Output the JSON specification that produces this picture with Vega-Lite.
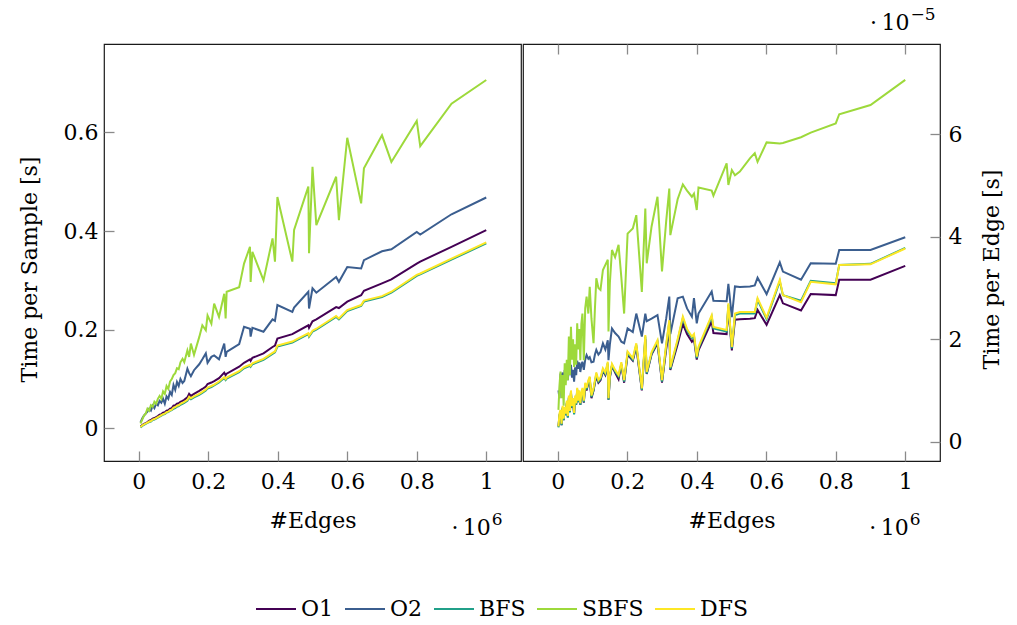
{
  "$schema": "https://vega.github.io/schema/vega-lite/v6.json",
  "padding": {"left": 17, "top": 5, "right": 5, "bottom": 5},
  "datasets": {
    "sample": [
      {"e":0.005,"O1":0.004,"O2":0.012,"BFS":0.002,"SBFS":0.010,"DFS":0.003},
      {"e":0.01,"O1":0.007,"O2":0.020,"BFS":0.005,"SBFS":0.018,"DFS":0.006},
      {"e":0.015,"O1":0.009,"O2":0.026,"BFS":0.007,"SBFS":0.026,"DFS":0.008},
      {"e":0.02,"O1":0.011,"O2":0.030,"BFS":0.009,"SBFS":0.030,"DFS":0.010},
      {"e":0.025,"O1":0.013,"O2":0.034,"BFS":0.011,"SBFS":0.040,"DFS":0.012},
      {"e":0.03,"O1":0.016,"O2":0.040,"BFS":0.013,"SBFS":0.036,"DFS":0.014},
      {"e":0.035,"O1":0.017,"O2":0.036,"BFS":0.014,"SBFS":0.047,"DFS":0.015},
      {"e":0.04,"O1":0.020,"O2":0.046,"BFS":0.017,"SBFS":0.044,"DFS":0.018},
      {"e":0.045,"O1":0.021,"O2":0.041,"BFS":0.018,"SBFS":0.054,"DFS":0.019},
      {"e":0.05,"O1":0.023,"O2":0.050,"BFS":0.020,"SBFS":0.050,"DFS":0.021},
      {"e":0.055,"O1":0.025,"O2":0.047,"BFS":0.022,"SBFS":0.060,"DFS":0.023},
      {"e":0.06,"O1":0.028,"O2":0.056,"BFS":0.024,"SBFS":0.066,"DFS":0.025},
      {"e":0.065,"O1":0.029,"O2":0.052,"BFS":0.026,"SBFS":0.060,"DFS":0.027},
      {"e":0.07,"O1":0.032,"O2":0.060,"BFS":0.028,"SBFS":0.075,"DFS":0.029},
      {"e":0.075,"O1":0.033,"O2":0.050,"BFS":0.029,"SBFS":0.070,"DFS":0.030},
      {"e":0.08,"O1":0.036,"O2":0.065,"BFS":0.032,"SBFS":0.086,"DFS":0.033},
      {"e":0.085,"O1":0.037,"O2":0.060,"BFS":0.033,"SBFS":0.080,"DFS":0.034},
      {"e":0.09,"O1":0.040,"O2":0.074,"BFS":0.036,"SBFS":0.095,"DFS":0.037},
      {"e":0.095,"O1":0.041,"O2":0.068,"BFS":0.037,"SBFS":0.100,"DFS":0.038},
      {"e":0.1,"O1":0.046,"O2":0.088,"BFS":0.040,"SBFS":0.108,"DFS":0.042},
      {"e":0.105,"O1":0.047,"O2":0.078,"BFS":0.041,"SBFS":0.112,"DFS":0.043},
      {"e":0.11,"O1":0.050,"O2":0.094,"BFS":0.044,"SBFS":0.122,"DFS":0.046},
      {"e":0.115,"O1":0.051,"O2":0.086,"BFS":0.045,"SBFS":0.120,"DFS":0.047},
      {"e":0.12,"O1":0.054,"O2":0.100,"BFS":0.048,"SBFS":0.134,"DFS":0.050},
      {"e":0.126,"O1":0.056,"O2":0.092,"BFS":0.050,"SBFS":0.141,"DFS":0.052},
      {"e":0.131,"O1":0.058,"O2":0.096,"BFS":0.052,"SBFS":0.134,"DFS":0.054},
      {"e":0.14,"O1":0.063,"O2":0.121,"BFS":0.056,"SBFS":0.158,"DFS":0.058},
      {"e":0.145,"O1":0.070,"O2":0.112,"BFS":0.062,"SBFS":0.145,"DFS":0.064},
      {"e":0.15,"O1":0.066,"O2":0.106,"BFS":0.059,"SBFS":0.172,"DFS":0.061},
      {"e":0.159,"O1":0.070,"O2":0.118,"BFS":0.063,"SBFS":0.149,"DFS":0.065},
      {"e":0.174,"O1":0.076,"O2":0.130,"BFS":0.068,"SBFS":0.185,"DFS":0.070},
      {"e":0.183,"O1":0.080,"O2":0.140,"BFS":0.072,"SBFS":0.209,"DFS":0.074},
      {"e":0.193,"O1":0.085,"O2":0.152,"BFS":0.077,"SBFS":0.199,"DFS":0.079},
      {"e":0.198,"O1":0.090,"O2":0.133,"BFS":0.081,"SBFS":0.229,"DFS":0.083},
      {"e":0.209,"O1":0.093,"O2":0.145,"BFS":0.084,"SBFS":0.212,"DFS":0.086},
      {"e":0.217,"O1":0.096,"O2":0.148,"BFS":0.087,"SBFS":0.253,"DFS":0.089},
      {"e":0.231,"O1":0.102,"O2":0.140,"BFS":0.093,"SBFS":0.226,"DFS":0.095},
      {"e":0.246,"O1":0.113,"O2":0.172,"BFS":0.102,"SBFS":0.273,"DFS":0.104},
      {"e":0.25,"O1":0.108,"O2":0.145,"BFS":0.098,"SBFS":0.223,"DFS":0.100},
      {"e":0.253,"O1":0.111,"O2":0.155,"BFS":0.101,"SBFS":0.277,"DFS":0.103},
      {"e":0.289,"O1":0.125,"O2":0.171,"BFS":0.114,"SBFS":0.286,"DFS":0.116},
      {"e":0.303,"O1":0.133,"O2":0.206,"BFS":0.122,"SBFS":0.334,"DFS":0.124},
      {"e":0.32,"O1":0.140,"O2":0.202,"BFS":0.127,"SBFS":0.368,"DFS":0.129},
      {"e":0.322,"O1":0.137,"O2":0.186,"BFS":0.125,"SBFS":0.297,"DFS":0.127},
      {"e":0.327,"O1":0.143,"O2":0.204,"BFS":0.130,"SBFS":0.358,"DFS":0.132},
      {"e":0.359,"O1":0.152,"O2":0.196,"BFS":0.139,"SBFS":0.300,"DFS":0.141},
      {"e":0.385,"O1":0.165,"O2":0.221,"BFS":0.151,"SBFS":0.385,"DFS":0.153},
      {"e":0.392,"O1":0.168,"O2":0.218,"BFS":0.154,"SBFS":0.338,"DFS":0.156},
      {"e":0.399,"O1":0.182,"O2":0.250,"BFS":0.166,"SBFS":0.469,"DFS":0.168},
      {"e":0.442,"O1":0.191,"O2":0.236,"BFS":0.174,"SBFS":0.338,"DFS":0.176},
      {"e":0.447,"O1":0.193,"O2":0.245,"BFS":0.176,"SBFS":0.402,"DFS":0.178},
      {"e":0.488,"O1":0.209,"O2":0.277,"BFS":0.191,"SBFS":0.490,"DFS":0.193},
      {"e":0.49,"O1":0.204,"O2":0.243,"BFS":0.186,"SBFS":0.355,"DFS":0.188},
      {"e":0.5,"O1":0.217,"O2":0.284,"BFS":0.196,"SBFS":0.530,"DFS":0.198},
      {"e":0.511,"O1":0.221,"O2":0.275,"BFS":0.200,"SBFS":0.412,"DFS":0.202},
      {"e":0.568,"O1":0.246,"O2":0.307,"BFS":0.226,"SBFS":0.510,"DFS":0.228},
      {"e":0.576,"O1":0.244,"O2":0.297,"BFS":0.221,"SBFS":0.422,"DFS":0.223},
      {"e":0.6,"O1":0.257,"O2":0.327,"BFS":0.238,"SBFS":0.589,"DFS":0.240},
      {"e":0.64,"O1":0.270,"O2":0.324,"BFS":0.248,"SBFS":0.456,"DFS":0.250},
      {"e":0.648,"O1":0.279,"O2":0.341,"BFS":0.257,"SBFS":0.527,"DFS":0.259},
      {"e":0.7,"O1":0.294,"O2":0.359,"BFS":0.266,"SBFS":0.594,"DFS":0.268},
      {"e":0.727,"O1":0.302,"O2":0.363,"BFS":0.275,"SBFS":0.540,"DFS":0.277},
      {"e":0.8,"O1":0.334,"O2":0.398,"BFS":0.309,"SBFS":0.623,"DFS":0.311},
      {"e":0.81,"O1":0.338,"O2":0.393,"BFS":0.312,"SBFS":0.572,"DFS":0.314},
      {"e":0.9,"O1":0.368,"O2":0.434,"BFS":0.342,"SBFS":0.658,"DFS":0.344},
      {"e":1.0,"O1":0.402,"O2":0.468,"BFS":0.375,"SBFS":0.706,"DFS":0.377}
    ],
    "edge": [
      {"e":0.002,"O1":0.30,"O2":1.00,"BFS":0.28,"SBFS":0.62,"DFS":0.30},
      {"e":0.005,"O1":0.50,"O2":0.85,"BFS":0.52,"SBFS":1.10,"DFS":0.55},
      {"e":0.008,"O1":0.60,"O2":1.33,"BFS":0.59,"SBFS":1.37,"DFS":0.62},
      {"e":0.011,"O1":0.32,"O2":1.20,"BFS":0.32,"SBFS":0.85,"DFS":0.35},
      {"e":0.014,"O1":0.65,"O2":1.35,"BFS":0.67,"SBFS":1.30,"DFS":0.70},
      {"e":0.017,"O1":0.42,"O2":1.05,"BFS":0.42,"SBFS":0.70,"DFS":0.45},
      {"e":0.02,"O1":0.65,"O2":1.40,"BFS":0.65,"SBFS":1.53,"DFS":0.68},
      {"e":0.023,"O1":0.52,"O2":1.25,"BFS":0.52,"SBFS":1.10,"DFS":0.55},
      {"e":0.026,"O1":0.75,"O2":1.38,"BFS":0.77,"SBFS":1.60,"DFS":0.80},
      {"e":0.029,"O1":0.48,"O2":1.20,"BFS":0.47,"SBFS":1.20,"DFS":0.50},
      {"e":0.032,"O1":0.85,"O2":1.46,"BFS":0.87,"SBFS":2.05,"DFS":0.90},
      {"e":0.035,"O1":0.58,"O2":1.30,"BFS":0.57,"SBFS":1.30,"DFS":0.60},
      {"e":0.038,"O1":0.95,"O2":1.50,"BFS":0.97,"SBFS":2.24,"DFS":1.00},
      {"e":0.041,"O1":0.66,"O2":1.25,"BFS":0.67,"SBFS":1.60,"DFS":0.70},
      {"e":0.044,"O1":0.80,"O2":1.40,"BFS":0.82,"SBFS":2.00,"DFS":0.85},
      {"e":0.047,"O1":0.54,"O2":1.17,"BFS":0.53,"SBFS":1.46,"DFS":0.56},
      {"e":0.05,"O1":0.86,"O2":1.45,"BFS":0.87,"SBFS":1.90,"DFS":0.90},
      {"e":0.053,"O1":0.72,"O2":1.30,"BFS":0.72,"SBFS":1.50,"DFS":0.75},
      {"e":0.056,"O1":1.00,"O2":1.58,"BFS":1.02,"SBFS":2.31,"DFS":1.05},
      {"e":0.059,"O1":0.77,"O2":1.42,"BFS":0.77,"SBFS":1.80,"DFS":0.80},
      {"e":0.062,"O1":0.95,"O2":1.55,"BFS":0.97,"SBFS":2.20,"DFS":1.00},
      {"e":0.065,"O1":0.72,"O2":1.36,"BFS":0.72,"SBFS":1.59,"DFS":0.75},
      {"e":0.068,"O1":0.90,"O2":1.50,"BFS":0.92,"SBFS":2.30,"DFS":0.95},
      {"e":0.071,"O1":1.00,"O2":1.56,"BFS":1.02,"SBFS":2.50,"DFS":1.05},
      {"e":0.075,"O1":0.76,"O2":1.40,"BFS":0.77,"SBFS":1.59,"DFS":0.80},
      {"e":0.079,"O1":1.10,"O2":1.60,"BFS":1.12,"SBFS":2.60,"DFS":1.15},
      {"e":0.083,"O1":1.00,"O2":1.69,"BFS":1.02,"SBFS":2.83,"DFS":1.05},
      {"e":0.088,"O1":1.15,"O2":1.62,"BFS":1.17,"SBFS":2.50,"DFS":1.20},
      {"e":0.092,"O1":1.20,"O2":1.65,"BFS":1.24,"SBFS":3.02,"DFS":1.27},
      {"e":0.097,"O1":0.85,"O2":1.55,"BFS":0.87,"SBFS":2.40,"DFS":0.90},
      {"e":0.103,"O1":1.00,"O2":1.56,"BFS":1.01,"SBFS":1.92,"DFS":1.04},
      {"e":0.107,"O1":1.15,"O2":1.70,"BFS":1.17,"SBFS":2.60,"DFS":1.20},
      {"e":0.111,"O1":1.28,"O2":1.79,"BFS":1.32,"SBFS":3.19,"DFS":1.35},
      {"e":0.117,"O1":1.15,"O2":1.70,"BFS":1.17,"SBFS":3.00,"DFS":1.20},
      {"e":0.123,"O1":1.20,"O2":1.75,"BFS":1.22,"SBFS":2.96,"DFS":1.25},
      {"e":0.13,"O1":1.38,"O2":1.92,"BFS":1.40,"SBFS":3.35,"DFS":1.43},
      {"e":0.137,"O1":1.30,"O2":1.80,"BFS":1.32,"SBFS":3.45,"DFS":1.35},
      {"e":0.144,"O1":1.50,"O2":1.98,"BFS":1.53,"SBFS":3.55,"DFS":1.56},
      {"e":0.146,"O1":0.82,"O2":1.59,"BFS":0.82,"SBFS":2.15,"DFS":0.85},
      {"e":0.15,"O1":1.25,"O2":1.90,"BFS":1.27,"SBFS":3.10,"DFS":1.30},
      {"e":0.156,"O1":1.48,"O2":2.21,"BFS":1.49,"SBFS":3.74,"DFS":1.52},
      {"e":0.165,"O1":1.35,"O2":2.12,"BFS":1.37,"SBFS":3.60,"DFS":1.40},
      {"e":0.175,"O1":1.22,"O2":2.05,"BFS":1.27,"SBFS":3.84,"DFS":1.30},
      {"e":0.183,"O1":1.50,"O2":1.95,"BFS":1.52,"SBFS":3.20,"DFS":1.55},
      {"e":0.191,"O1":1.15,"O2":1.92,"BFS":1.17,"SBFS":2.50,"DFS":1.20},
      {"e":0.201,"O1":1.70,"O2":2.21,"BFS":1.73,"SBFS":4.06,"DFS":1.76},
      {"e":0.216,"O1":1.58,"O2":2.14,"BFS":1.60,"SBFS":4.16,"DFS":1.63},
      {"e":0.226,"O1":1.85,"O2":2.50,"BFS":1.89,"SBFS":4.42,"DFS":1.92},
      {"e":0.242,"O1":1.00,"O2":2.05,"BFS":1.01,"SBFS":2.92,"DFS":1.04},
      {"e":0.252,"O1":2.00,"O2":2.50,"BFS":2.05,"SBFS":4.55,"DFS":2.08},
      {"e":0.256,"O1":1.32,"O2":2.35,"BFS":1.33,"SBFS":3.48,"DFS":1.36},
      {"e":0.27,"O1":1.70,"O2":2.40,"BFS":1.72,"SBFS":4.20,"DFS":1.75},
      {"e":0.287,"O1":1.92,"O2":2.47,"BFS":1.95,"SBFS":4.78,"DFS":1.98},
      {"e":0.3,"O1":1.15,"O2":1.92,"BFS":1.17,"SBFS":3.32,"DFS":1.20},
      {"e":0.312,"O1":1.80,"O2":2.40,"BFS":1.87,"SBFS":4.30,"DFS":1.90},
      {"e":0.321,"O1":2.20,"O2":2.83,"BFS":2.34,"SBFS":4.94,"DFS":2.37},
      {"e":0.324,"O1":1.40,"O2":2.10,"BFS":1.42,"SBFS":4.03,"DFS":1.45},
      {"e":0.345,"O1":1.90,"O2":2.80,"BFS":1.97,"SBFS":4.73,"DFS":2.00},
      {"e":0.36,"O1":2.30,"O2":2.83,"BFS":2.41,"SBFS":5.02,"DFS":2.44},
      {"e":0.372,"O1":2.10,"O2":2.60,"BFS":2.17,"SBFS":4.90,"DFS":2.20},
      {"e":0.386,"O1":1.95,"O2":2.44,"BFS":2.02,"SBFS":4.78,"DFS":2.05},
      {"e":0.392,"O1":2.00,"O2":2.80,"BFS":2.07,"SBFS":4.84,"DFS":2.10},
      {"e":0.4,"O1":1.60,"O2":2.31,"BFS":1.63,"SBFS":4.52,"DFS":1.66},
      {"e":0.405,"O1":1.78,"O2":2.50,"BFS":1.82,"SBFS":4.96,"DFS":1.85},
      {"e":0.443,"O1":2.35,"O2":2.93,"BFS":2.44,"SBFS":4.90,"DFS":2.47},
      {"e":0.448,"O1":2.12,"O2":2.75,"BFS":2.21,"SBFS":4.80,"DFS":2.24},
      {"e":0.486,"O1":2.10,"O2":2.74,"BFS":2.15,"SBFS":5.43,"DFS":2.18},
      {"e":0.491,"O1":2.62,"O2":3.08,"BFS":2.67,"SBFS":5.01,"DFS":2.70},
      {"e":0.501,"O1":1.78,"O2":2.43,"BFS":1.82,"SBFS":5.30,"DFS":1.85},
      {"e":0.51,"O1":2.38,"O2":3.03,"BFS":2.47,"SBFS":5.20,"DFS":2.50},
      {"e":0.524,"O1":2.39,"O2":3.02,"BFS":2.50,"SBFS":5.27,"DFS":2.53},
      {"e":0.553,"O1":2.40,"O2":3.03,"BFS":2.50,"SBFS":5.53,"DFS":2.53},
      {"e":0.567,"O1":2.41,"O2":3.05,"BFS":2.50,"SBFS":5.63,"DFS":2.53},
      {"e":0.575,"O1":2.57,"O2":3.20,"BFS":2.77,"SBFS":5.46,"DFS":2.80},
      {"e":0.601,"O1":2.28,"O2":2.88,"BFS":2.39,"SBFS":5.84,"DFS":2.42},
      {"e":0.639,"O1":2.86,"O2":3.50,"BFS":3.13,"SBFS":5.82,"DFS":3.16},
      {"e":0.648,"O1":2.70,"O2":3.32,"BFS":2.86,"SBFS":5.83,"DFS":2.86},
      {"e":0.7,"O1":2.56,"O2":3.16,"BFS":2.75,"SBFS":5.94,"DFS":2.72},
      {"e":0.728,"O1":2.88,"O2":3.48,"BFS":3.14,"SBFS":6.03,"DFS":3.12},
      {"e":0.8,"O1":2.86,"O2":3.47,"BFS":3.09,"SBFS":6.21,"DFS":3.07},
      {"e":0.81,"O1":3.16,"O2":3.74,"BFS":3.45,"SBFS":6.39,"DFS":3.45},
      {"e":0.9,"O1":3.16,"O2":3.74,"BFS":3.47,"SBFS":6.57,"DFS":3.46},
      {"e":1.0,"O1":3.43,"O2":3.99,"BFS":3.78,"SBFS":7.06,"DFS":3.77}
    ]
  },
  "config": {
    "font": "DejaVu Serif",
    "view": {"stroke": "#1a1a1a", "strokeWidth": 1.2},
    "concat": {"spacing": 0},
    "axis": {
      "grid": false,
      "domain": false,
      "zindex": 1,
      "tickColor": "#8a8a8a",
      "tickSize": 10,
      "offset": -10,
      "tickWidth": 1.3,
      "labelFont": "DejaVu Serif",
      "titleFont": "DejaVu Serif",
      "labelFontSize": 22,
      "titleFontSize": 22,
      "titleFontWeight": "normal",
      "labelColor": "#000",
      "titleColor": "#000",
      "labelPadding": 10,
      "titlePadding": 10,
      "format": "~g"
    },
    "legend": {
      "labelFont": "DejaVu Serif",
      "labelFontSize": 22,
      "labelColor": "#000"
    },
    "text": {"font": "DejaVu Serif", "fontSize": 22, "color": "#000"}
  },
  "hconcat": [
    {
      "width": 417,
      "height": 417,
      "layer": [
        {
          "data": {"name": "sample"},
          "transform": [{"fold": ["O1", "O2", "BFS", "SBFS", "DFS"], "as": ["algo", "v"]}],
          "mark": {"type": "line", "strokeWidth": 2, "clip": true},
          "encoding": {
            "x": {"field": "e", "type": "quantitative",
                  "scale": {"domain": [-0.1, 1.1], "nice": false, "zero": false},
                  "axis": {"values": [0, 0.2, 0.4, 0.6, 0.8, 1], "title": "#Edges", "titlePadding": 18}},
            "y": {"field": "v", "type": "quantitative",
                  "scale": {"domain": [-0.066, 0.779], "nice": false, "zero": false},
                  "axis": {"values": [0, 0.2, 0.4, 0.6], "title": "Time per Sample [s]", "titlePadding": 22, "labelPadding": 6, "titleY": 225}},
            "color": {"field": "algo", "type": "nominal",
                      "scale": {"domain": ["O1", "O2", "BFS", "SBFS", "DFS"],
                                "range": ["#440154", "#3b5e8f", "#21a089", "#9dd93b", "#fde725"]},
                      "legend": {"title": null, "orient": "none", "direction": "horizontal",
                                 "legendX": 151, "legendY": 544,
                                 "symbolType": "stroke", "symbolSize": 1600, "symbolStrokeWidth": 2,
                                 "labelOffset": 4, "columnPadding": 7}},
            "detail": {"field": "algo"}
          }
        },
        {
          "data": {"values": [{}]},
          "mark": {"type": "text", "text": "·\u200910", "align": "right", "baseline": "alphabetic", "dy": 74},
          "encoding": {
            "x": {"datum": 1.013, "type": "quantitative"},
            "y": {"datum": -0.066, "type": "quantitative"}
          }
        },
        {
          "data": {"values": [{}]},
          "mark": {"type": "text", "text": "6", "align": "left", "baseline": "alphabetic", "dy": 64, "dx": 1, "fontSize": 17},
          "encoding": {
            "x": {"datum": 1.013, "type": "quantitative"},
            "y": {"datum": -0.066, "type": "quantitative"}
          }
        }
      ]
    },
    {
      "width": 417,
      "height": 417,
      "resolve": {"axis": {"x": "independent"}},
      "layer": [
        {
          "layer": [
            {
              "data": {"name": "edge"},
              "transform": [{"fold": ["O1", "O2", "BFS", "SBFS", "DFS"], "as": ["algo", "v"]}],
              "mark": {"type": "line", "strokeWidth": 2, "clip": true},
              "encoding": {
                "x": {"field": "e", "type": "quantitative",
                      "scale": {"domain": [-0.1, 1.1], "nice": false, "zero": false},
                      "axis": {"values": [0, 0.2, 0.4, 0.6, 0.8, 1], "title": "#Edges", "titlePadding": 18}},
                "y": {"field": "v", "type": "quantitative",
                      "scale": {"domain": [-0.377, 7.76], "nice": false, "zero": false},
                      "axis": {"orient": "right", "values": [0, 2, 4, 6], "title": "Time per Edge [s]",
                               "titleAngle": 270, "titleBaseline": "top", "titlePadding": 20, "labelPadding": 8, "titleY": 225}},
                "color": {"field": "algo", "type": "nominal",
                          "scale": {"domain": ["O1", "O2", "BFS", "SBFS", "DFS"],
                                    "range": ["#440154", "#3b5e8f", "#21a089", "#9dd93b", "#fde725"]}},
                "detail": {"field": "algo"}
              }
            },
            {
              "data": {"values": [{}]},
              "mark": {"type": "text", "text": "·\u200910", "align": "right", "baseline": "alphabetic", "dy": 74},
              "encoding": {
                "x": {"datum": 1.01, "type": "quantitative"},
                "y": {"datum": -0.377, "type": "quantitative"}
              }
            },
            {
              "data": {"values": [{}]},
              "mark": {"type": "text", "text": "6", "align": "left", "baseline": "alphabetic", "dy": 64, "dx": 1, "fontSize": 17},
              "encoding": {
                "x": {"datum": 1.01, "type": "quantitative"},
                "y": {"datum": -0.377, "type": "quantitative"}
              }
            },
            {
              "data": {"values": [{}]},
              "mark": {"type": "text", "text": "·\u200910", "align": "right", "baseline": "alphabetic", "dy": -14},
              "encoding": {
                "x": {"datum": 1.012, "type": "quantitative"},
                "y": {"datum": 7.76, "type": "quantitative"}
              }
            },
            {
              "data": {"values": [{}]},
              "mark": {"type": "text", "text": "−5", "align": "left", "baseline": "alphabetic", "dy": -24, "dx": 1, "fontSize": 17},
              "encoding": {
                "x": {"datum": 1.012, "type": "quantitative"},
                "y": {"datum": 7.76, "type": "quantitative"}
              }
            }
          ]
        },
        {
          "data": {"values": [{}]},
          "mark": {"type": "text", "text": ""},
          "encoding": {
            "x": {"datum": 0.5, "type": "quantitative",
                  "axis": {"orient": "top", "values": [0, 0.2, 0.4, 0.6, 0.8, 1], "labels": false, "title": null}}
          }
        }
      ]
    }
  ]
}
